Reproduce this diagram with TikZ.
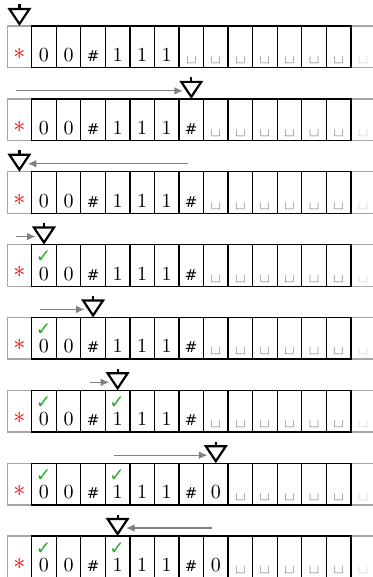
\documentclass[tikz,border=0pt]{standalone}
\usepackage{fontspec}
\newfontfamily\tmdejavu{DejaVu Sans}
\usetikzlibrary{arrows.meta}
\definecolor{chkgreen}{RGB}{44,170,44}
\newcommand\tmhash{{\tmdejavu\fontsize{7.5}{8}\selectfont\#}}
\expandafter\def\csname tmsym0\endcsname{0}
\expandafter\def\csname tmsym1\endcsname{1}
\expandafter\def\csname tmsymH\endcsname{\tmhash}
\expandafter\def\csname tmsymB\endcsname{\textvisiblespace}
\tikzset{
  cellbox/.style={draw=black, line width=0.65pt},
  greycell/.style={draw=black!35, line width=0.65pt},
  sym/.style={anchor=base, inner sep=0pt, font=\fontsize{10}{12}\selectfont},
  headtri/.style={draw=black, line width=1.1pt, line join=miter},
  mv/.style={draw=black!50, line width=0.6pt, -{Latex[length=4.2pt,width=3.8pt]}},
  checkmark/.style={text=chkgreen, inner sep=0pt, text depth=0pt, font=\tmdejavu\fontsize{9.2}{9.2}\selectfont},
  star/.style={text=red, inner sep=0pt, font=\large},
}
\begin{document}
\begin{tikzpicture}[x=0.5pt,y=-0.5pt]
\useasboundingbox (0,0) rectangle (373,577);
\foreach \r/\syms/\chks/\hd/\pv in {
  0/{0,0,H,1,1,1,B,B,B,B,B,B,B}/{0}/0/-1,
  1/{0,0,H,1,1,1,H,B,B,B,B,B,B}/{0}/7/0,
  2/{0,0,H,1,1,1,H,B,B,B,B,B,B}/{0}/0/7,
  3/{0,0,H,1,1,1,H,B,B,B,B,B,B}/{1}/1/0,
  4/{0,0,H,1,1,1,H,B,B,B,B,B,B}/{1}/3/1,
  5/{0,0,H,1,1,1,H,B,B,B,B,B,B}/{1,4}/4/3,
  6/{0,0,H,1,1,1,H,0,B,B,B,B,B}/{1,4}/8/4,
  7/{0,0,H,1,1,1,H,0,B,B,B,B,B}/{1,4}/4/8}{
  \pgfmathsetmacro\T{26+\r*72.86}
  \pgfmathsetmacro\Bt{\T+41.7}
  % grey end cells
  \draw[greycell] (7.3,\T) rectangle (31.7,\Bt);
  \draw[greycell] (350.85,\T) rectangle (375.4,\Bt);
  % black cells
  \foreach \k in {1,...,13}{
    \draw[cellbox] ({31.7+24.55*(\k-1)},\T) rectangle ({31.7+24.55*\k},\Bt);
  }
  \node[star] (a\r) at (19.4,{\T+27.7}) {$\ast$};
  \foreach \s [count=\k] in \syms {
    \node[sym] (s\r-\k) at ({31.7+24.55*(\k-0.5)},{\Bt-6.2}) {\csname tmsym\s\endcsname};
  }
  \node[sym, text=black!35] (g\r) at ({31.7+24.55*13.5},{\Bt-6.2}) {\textvisiblespace};
  \foreach \c in \chks {
    \ifnum\c>0
      \node[checkmark, anchor=base] (k\r-\c) at ({31.7+24.55*(\c-0.5)-0.5},{\T+18.4}) {✓};
    \fi
  }
  % head
  \pgfmathsetmacro\hx{31.7+24.55*(\hd-0.5)}
  \coordinate (h\r) at (\hx,\T);
  \draw[headtri] ([shift={(-10,-17)}]h\r) -- ([shift={(10,-17)}]h\r) -- ([shift={(0,-2)}]h\r) -- cycle;
  \draw[headtri] ([shift={(0,-17)}]h\r) -- ([shift={(0,-21.5)}]h\r);
  \ifnum\pv>-1
    \pgfmathsetmacro\px{31.7+24.55*(\pv-0.5)}
    \pgfmathsetmacro\ex{\hx-8.5*sign(\hx-\px)}
    \coordinate (m\r a) at ({\px-3.5},{\T-8});
    \coordinate (m\r b) at (\ex,{\T-8});
    \draw[mv] (m\r a) -- (m\r b);
  \fi
}
\end{tikzpicture}
\end{document}
